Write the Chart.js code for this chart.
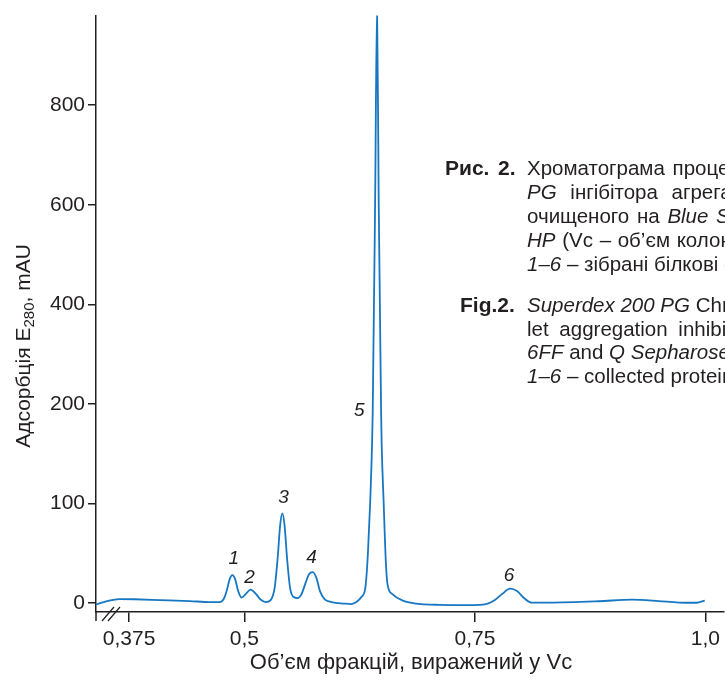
<!DOCTYPE html>
<html lang="uk">
<head>
<meta charset="utf-8">
<title>Хроматограма Superdex 200 PG</title>
<script src="https://cdn.jsdelivr.net/npm/chart.js@4.4.1/dist/chart.umd.min.js"></script>
<style>
  body { margin: 0; background: #fff; }
  #wrap { position: relative; width: 725px; height: 680px; overflow: hidden; }
  #grafica { position: absolute; left: 0; top: 0; }
  .cap { position: absolute; white-space: nowrap; font-family: "Liberation Sans", Arial, sans-serif;
         font-size: 20.5px; line-height: 24px; color: #231f20; }
  .cap b { font-size: 21px; }
  .cap i { font-style: italic; }
</style>
</head>
<body>
<div id="wrap">
  <canvas id="grafica" width="725" height="680"></canvas>

  <div class="cap" style="left:445px; top:156px"><b>Рис.</b></div>
  <div class="cap" style="left:498px; top:156px"><b>2.</b></div>
  <div class="cap" style="left:527px; top:156px; word-spacing:2px">Хроматограма процесу очищення на <i>Superdex 200</i></div>
  <div class="cap" style="left:527px; top:180px; word-spacing:8px"><i>PG</i> інгібітора агрегації тромбоцитів,</div>
  <div class="cap" style="left:527px; top:204px; word-spacing:2px">очищеного на <i>Blue Sepharose 6FF</i> і <i>Q Sepharose</i></div>
  <div class="cap" style="left:527px; top:228px; word-spacing:1px"><i>HP</i> (Vc – об’єм колонки)</div>
  <div class="cap" style="left:527px; top:252px"><i>1–6</i> – зібрані білкові фракції</div>

  <div class="cap" style="left:460px; top:293px"><b>Fig.2.</b></div>
  <div class="cap" style="left:527px; top:293px"><i>Superdex 200 PG</i> Chromatography of the plate-</div>
  <div class="cap" style="left:527px; top:317px; word-spacing:5px">let aggregation inhibitor purified on <i>Blue Sepharose</i></div>
  <div class="cap" style="left:527px; top:340px"><i>6FF</i> and <i>Q Sepharose HP</i> (Vc – column volume);</div>
  <div class="cap" style="left:527px; top:364px"><i>1–6</i> – collected protein fractions</div>
</div>

<script>
// об'єм фракції (частка Vc) та поглинання E280, mAU
const fractionVolume = [
  0.3391, 0.3477, 0.3564, 0.3650, 0.3813, 0.4083, 0.4408, 0.4624, 0.4732, 0.4776,
  0.4808, 0.4841, 0.4870, 0.4900, 0.4933, 0.4971, 0.5014, 0.5068, 0.5122, 0.5176,
  0.5231, 0.5285, 0.5328, 0.5361, 0.5388, 0.5411, 0.5436, 0.5463, 0.5496, 0.5534,
  0.5577, 0.5620, 0.5663, 0.5701, 0.5742, 0.5782, 0.5820, 0.5869, 0.5945, 0.6085,
  0.6161, 0.6215, 0.6269, 0.6313, 0.6340, 0.6364, 0.6385, 0.6392, 0.6418, 0.6439,
  0.6457, 0.6483, 0.6489, 0.6511, 0.6535, 0.6554, 0.6605, 0.6713, 0.6865, 0.7114,
  0.7438, 0.7622, 0.7709, 0.7795, 0.7882, 0.7957, 0.8033, 0.8109, 0.8304, 0.8845,
  0.9202, 0.9494, 0.9711, 0.9906, 0.9993
];
const absorbance = [
  -1.3, 1, 3, 4, 3.8, 3, 2, 1, 1, 4,
  12, 24, 28, 24, 12, 5.5, 9, 13.5, 9.5, 3.5,
  1, 3, 15, 45, 78, 90, 78, 45, 15, 6,
  5, 9, 20, 29, 31, 25, 12, 4, 1, -0.5,
  -1, 1, 6, 16, 50, 100, 160, 192, 604, 1000,
  604, 192, 160, 100, 40, 18, 9, 2.7, -0.6, -1.8,
  -2, -1, 2.5, 9, 14.4, 12, 5, 0.5, 0.5, 1.8,
  3.4, 2, 0.5, 0.3, 2.5
];

const xTickValues = [0.375, 0.5, 0.75, 1.0];
const xTickLabels = ['0,375', '0,5', '0,75', '1,0'];
const yTickValues = [0, 100, 200, 400, 600, 800];

const peakNames = ['1', '2', '3', '4', '5', '6'];
const peakNameX = [0.4884, 0.5057, 0.5425, 0.5728, 0.6247, 0.7871];
const peakNameY = [45, 25, 106, 46, 193, 27];

// вісь Y має розрив масштабу: вище 200 mAU крок удвічі дрібніший
const brk = v => (v <= 200 ? v : 200 + (v - 200) / 2);

const ink = '#231f20';
const fontFam = '"Liberation Sans", Arial, sans-serif';

const overlay = {
  id: 'overlay',
  afterDraw(chart) {
    const { ctx, chartArea, scales } = chart;
    const x = scales.x, y = scales.y;
    ctx.save();

    // продовження осі Y нижче осі X
    ctx.strokeStyle = ink;
    ctx.lineWidth = 1.5;
    ctx.beginPath();
    ctx.moveTo(chartArea.left, chartArea.bottom);
    ctx.lineTo(chartArea.left, chartArea.bottom + 9);
    ctx.stroke();

    // розрив осі X
    ctx.lineWidth = 1.2;
    ctx.beginPath();
    ctx.moveTo(102, chartArea.bottom + 9); ctx.lineTo(114, chartArea.bottom - 5);
    ctx.moveTo(108, chartArea.bottom + 9); ctx.lineTo(120, chartArea.bottom - 5);
    ctx.stroke();

    // номери піків
    ctx.fillStyle = ink;
    ctx.font = 'italic 19px ' + fontFam;
    ctx.textAlign = 'center';
    ctx.textBaseline = 'middle';
    peakNames.forEach((n, i) => {
      ctx.fillText(n, x.getPixelForValue(peakNameX[i]), y.getPixelForValue(brk(peakNameY[i])));
    });

    // підпис осі X
    ctx.font = '22px ' + fontFam;
    ctx.fillText('Об’єм фракцій, виражений у Vc', 411, 663);

    // підпис осі Y з нижнім індексом
    ctx.translate(24, 346);
    ctx.rotate(-Math.PI / 2);
    const partA = 'Адсорбція E', sub = '280', partB = ', mAU';
    ctx.font = '21px ' + fontFam;
    const wA = ctx.measureText(partA).width, wB = ctx.measureText(partB).width;
    ctx.font = '15px ' + fontFam;
    const wS = ctx.measureText(sub).width;
    let cx = -(wA + wS + wB) / 2;
    ctx.textAlign = 'left';
    ctx.font = '21px ' + fontFam;
    ctx.fillText(partA, cx, 0); cx += wA;
    ctx.font = '15px ' + fontFam;
    ctx.fillText(sub, cx, 6); cx += wS;
    ctx.font = '21px ' + fontFam;
    ctx.fillText(partB, cx, 0);

    ctx.restore();
  }
};

const init = () => {
  const canva = document.getElementById('grafica').getContext('2d');
  new Chart(canva, {
    type: 'line',
    data: {
      datasets: [{
        data: fractionVolume.map((v, i) => ({ x: v, y: brk(absorbance[i]) })),
        borderColor: '#1677c2',
        borderWidth: 1.8,
        pointRadius: 0,
        fill: false,
        cubicInterpolationMode: 'monotone'
      }]
    },
    options: {
      responsive: false,
      animation: false,
      layout: { padding: { top: 13, right: 0, left: 0, bottom: 0 } },
      plugins: { legend: { display: false }, tooltip: { enabled: false } },
      scales: {
        x: {
          type: 'linear',
          min: 0.3391,
          max: 1.0198,
          afterFit: s => { s.height = 68; },
          afterBuildTicks: s => { s.ticks = xTickValues.map(value => ({ value })); },
          ticks: {
            callback: (v, i) => xTickLabels[i],
            autoSkip: false,
            maxRotation: 0,
            padding: 5,
            color: ink,
            font: { family: fontFam, size: 21 }
          },
          grid: { drawOnChartArea: false, tickLength: 10, color: ink, lineWidth: 1.5 },
          border: { color: ink, width: 1.5 }
        },
        y: {
          type: 'linear',
          min: -9,
          max: 590,
          afterFit: s => { s.width = 96; },
          afterBuildTicks: s => { s.ticks = yTickValues.map(v => ({ value: brk(v) })); },
          ticks: {
            callback: (v, i) => String(yTickValues[i]),
            padding: 3,
            color: ink,
            font: { family: fontFam, size: 21 }
          },
          grid: { drawOnChartArea: false, tickLength: 8, color: ink, lineWidth: 1.5 },
          border: { color: ink, width: 1.5 }
        }
      }
    },
    plugins: [overlay]
  });
};

document.addEventListener('DOMContentLoaded', () => {
  init();
});
</script>
</body>
</html>
